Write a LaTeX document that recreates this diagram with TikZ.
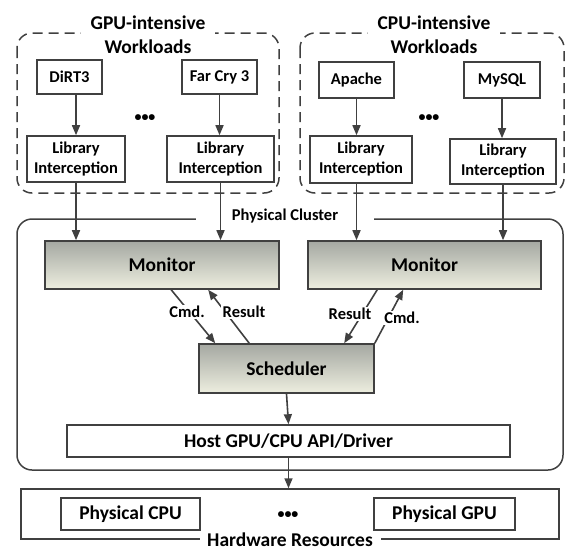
\documentclass[tikz,border=0pt]{standalone}
\usepackage{fontspec}
\setmainfont{Carlito}
\usetikzlibrary{arrows.meta,calc}
\definecolor{ln}{HTML}{404040}
\definecolor{gtop}{HTML}{A5A8A2}
\definecolor{gbot}{HTML}{EDEEDF}
\tikzset{
  big/.style={font=\bfseries\fontsize{19.5}{24}\selectfont},
  mid/.style={font=\bfseries\fontsize{16.5}{20}\selectfont},
  plainbox/.style={draw=ln,line width=1.6pt,fill=white,inner sep=0pt,align=center},
  shadebox/.style={draw=ln,line width=1.6pt,top color=gtop,bottom color=gbot,inner sep=0pt,big},
  grp/.style={draw=ln,line width=1.5pt,dash pattern=on 10pt off 6pt,rounded corners=15pt},
  arr/.style={draw=ln,line width=1.6pt,-{Triangle[length=10pt,width=8pt]}},
  lab/.style={fill=white,inner xsep=2pt,inner ysep=1pt},
  dots/.style={font=\bfseries\fontsize{14}{14}\selectfont,inner sep=0pt}
}
\begin{document}
\begin{tikzpicture}[x=1pt,y=-1pt]
\useasboundingbox (0,0) rectangle (577,557);
% workload groups
\draw[grp] (17,33) rectangle (279,193);
\draw[grp] (300,33) rectangle (564,193);
\node[big,fill=white,align=center,inner xsep=10pt,inner ysep=0pt] (gtitle) at (148,35) {GPU-intensive\\Workloads};
\node[big,fill=white,align=center,inner xsep=10pt,inner ysep=0pt] (ctitle) at (434,35) {CPU-intensive\\Workloads};
% applications
\node[plainbox,mid,minimum width=65pt,minimum height=34pt] (dirt) at (69.5,77) {DiRT3};
\node[plainbox,mid,minimum width=75pt,minimum height=34pt] (farcry) at (219.5,77) {Far Cry 3};
\node[plainbox,mid,minimum width=75pt,minimum height=36pt] (apache) at (356.5,80) {Apache};
\node[plainbox,mid,minimum width=76pt,minimum height=36pt] (mysql) at (502,80) {MySQL};
\node[dots] (d1) at (145,118) {•••};
\node[dots] (d2) at (429,118) {•••};
% library interception
\node[plainbox,mid,minimum width=98pt,minimum height=46pt] (li1) at (76,159) {Library\\Interception};
\node[plainbox,mid,minimum width=107pt,minimum height=46pt] (li2) at (220.5,159) {Library\\Interception};
\node[plainbox,mid,minimum width=102pt,minimum height=47pt] (li3) at (361,159.5) {Library\\Interception};
\node[plainbox,mid,minimum width=106pt,minimum height=45pt] (li4) at (503,161.5) {Library\\Interception};
% physical cluster
\draw[draw=ln,line width=1.5pt,rounded corners=15pt] (17,219) rectangle (563,470);
\node[mid,fill=white,minimum width=178pt,inner ysep=1pt] (pc) at (285,216) {Physical Cluster};
\node[shadebox,minimum width=234pt,minimum height=48pt] (mon1) at (162,265) {Monitor};
\node[shadebox,minimum width=233pt,minimum height=48pt] (mon2) at (424.5,265) {Monitor};
\node[shadebox,minimum width=175pt,minimum height=49pt] (sch) at (286.5,368.5) {Scheduler};
\node[plainbox,big,minimum width=443pt,minimum height=32pt] (host) at (288.5,441) {Host GPU/CPU API/Driver};
% hardware
\node[draw=ln,line width=1.5pt,minimum width=538pt,minimum height=50pt,inner sep=0pt] (hw) at (290,514) {};
\node[big,fill=white,minimum width=181pt,inner ysep=1pt] (hwl) at (290,540) {Hardware Resources};
\node[plainbox,big,minimum width=139pt,minimum height=32pt] (pcpu) at (130.5,514) {Physical CPU};
\node[plainbox,big,minimum width=141pt,minimum height=32pt] (pgpu) at (444.5,514) {Physical GPU};
\node[dots] (d3) at (288,515) {•••};
% arrows: apps to interception
\draw[arr] (li1.north |- dirt.south) -- (li1.north);
\draw[arr] (farcry.south) -- (farcry.south |- li2.north);
\draw[arr] (apache.south) -- (apache.south |- li3.north);
\draw[arr] (mysql.south) -- (mysql.south |- li4.north);
% interception to monitors
\draw[arr] (li1.south) -- (li1.south |- mon1.north);
\draw[arr] (li2.south) -- (li2.south |- mon1.north);
\draw[arr] (li3.south -| apache.south) -- (apache.south |- mon2.north);
\draw[arr] (li4.south) -- (li4.south |- mon2.north);
% monitor <-> scheduler
\draw[arr] ($(mon1.south west)+(127,0)$) -- ($(sch.north west)+(17,0)$);
\draw[arr] ($(sch.north west)+(51,0)$) -- ($(mon1.south west)+(164,0)$);
\draw[arr] ($(mon2.south west)+(70,0)$) -- ($(sch.north west)+(146,0)$);
\draw[arr] (sch.north east) -- ($(mon2.south west)+(96,0)$);
\node[mid,lab] (cmd1) at (187,312) {Cmd.};
\node[mid,lab] (res1) at (244,312) {Result};
\node[mid,lab] (res2) at (350,314) {Result};
\node[mid,lab,inner xsep=3pt] (cmd2) at (402,318) {Cmd.};
% scheduler to host to hardware
\draw[arr] (sch.south) -- (host.north);
\draw[arr] (host.south) -- (host.south |- hw.north);
\end{tikzpicture}
\end{document}
